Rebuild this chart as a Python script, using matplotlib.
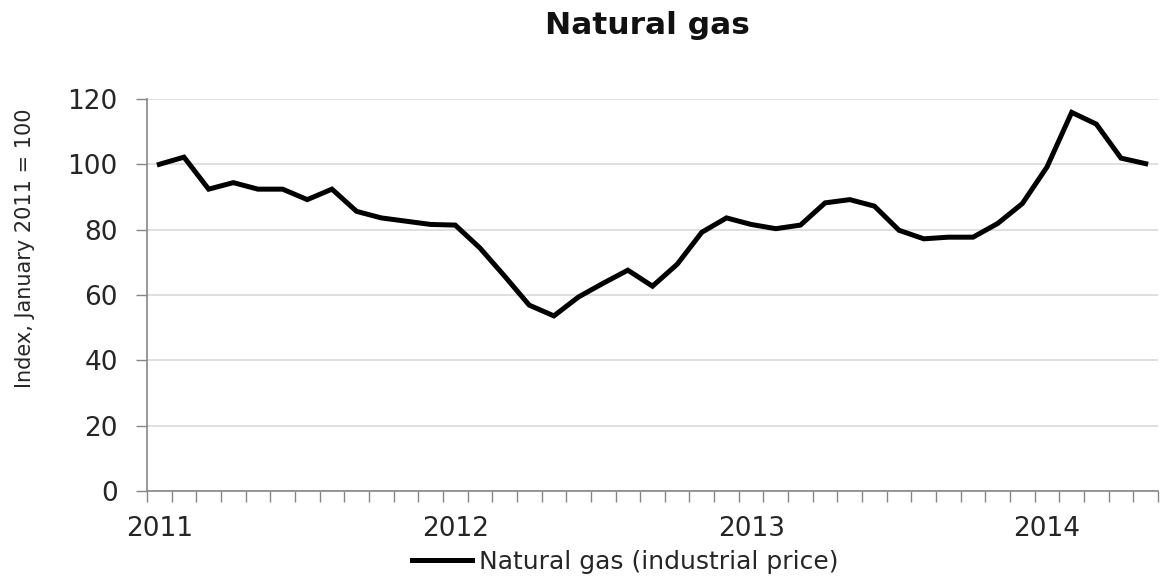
import matplotlib
matplotlib.use("Agg")
import matplotlib.pyplot as plt
import numpy as np

plt.rcParams['font.family'] = ['DejaVu Sans']

# Monthly data Jan 2011 .. May 2014 (41 months)
months = [f"{y}-{m:02d}" for y in range(2011, 2015) for m in range(1, 13)][:41]
natural_gas = [100, 102.2, 92.4, 94.4, 92.4, 92.4, 89.2, 92.4, 85.6, 83.6,
               82.6, 81.6, 81.4, 74.4, 65.8, 56.9, 53.6, 59.4, 63.6, 67.6,
               62.7, 69.4, 79.2, 83.6, 81.6, 80.3, 81.4, 88.2, 89.2, 87.2,
               79.8, 77.2, 77.7, 77.7, 81.9, 88.0, 99.2, 115.9, 112.3, 101.9,
               100.2]
year_labels = ["2011", "2012", "2013", "2014"]
yticks = [0, 20, 40, 60, 80, 100, 120]

fig = plt.figure(figsize=(11.72, 5.83), dpi=100)
ax = fig.add_axes([147/1172, 92/583, (1158-147)/1172, (491-99)/583])

x = np.arange(len(natural_gas))
ax.plot(x, natural_gas, color='black', lw=3.6, solid_joinstyle='miter',
        label='Natural gas (industrial price)')

ax.set_xlim(-0.5, len(natural_gas) - 0.5)
ax.set_ylim(0, 120)
ax.set_yticks(yticks)
ax.set_yticklabels([str(v) for v in yticks])
ax.yaxis.grid(True, color='#d9d9d9', lw=1.2)
ax.set_axisbelow(True)

ax.set_xticks([0, 12, 24, 36])
ax.set_xticklabels(year_labels)
ax.set_xticks(np.arange(-0.5, len(natural_gas) + 0.5, 1), minor=True)
ax.tick_params(axis='x', which='major', length=0, pad=18, labelsize=19, colors='#262626')
ax.tick_params(axis='x', which='minor', length=8, width=1, color='#868686', direction='out')
ax.tick_params(axis='y', which='major', length=8, width=1, color='#868686', pad=13,
               labelsize=19, labelcolor='#262626')

for s in ['top', 'right']:
    ax.spines[s].set_visible(False)
for s in ['left', 'bottom']:
    ax.spines[s].set_color('#868686')
    ax.spines[s].set_linewidth(1.2)

fig.text(647/1172, 1 - 25/583, 'Natural gas', ha='center', va='center',
         fontsize=22.5, fontweight='bold', color='#111111')
fig.text(25/1172, 1 - 248/583, 'Index, January 2011 = 100', rotation=90,
         ha='center', va='center', fontsize=15, color='#262626')

fig.legend(loc='center', bbox_to_anchor=(625/1172, 21/583), frameon=False,
           fontsize=18, handlelength=2.4, handletextpad=0.3,
           labelcolor='#262626')

fig.savefig('out.png', dpi=100, facecolor='white')
